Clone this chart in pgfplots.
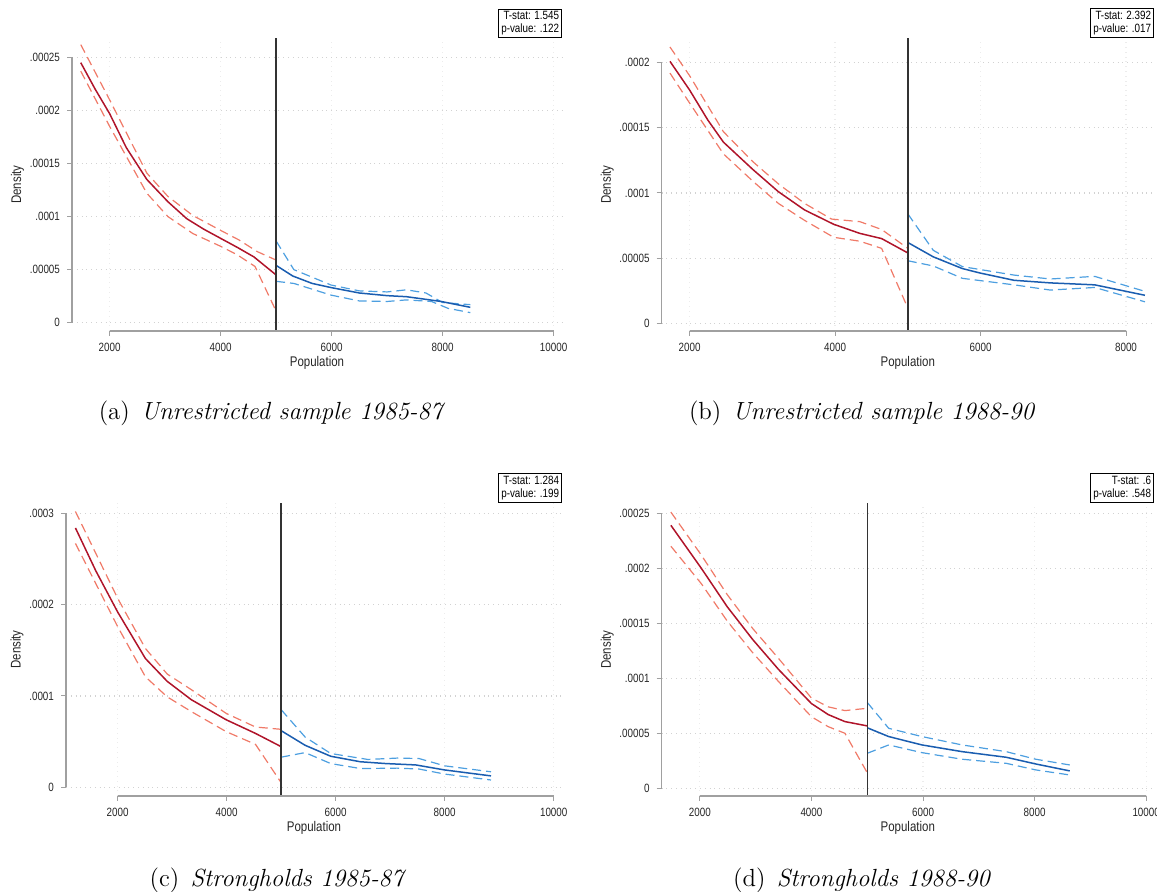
\documentclass[border=0pt]{standalone}
\usepackage{fontspec}
\newfontfamily\stata[FakeStretch=0.82]{Liberation Sans}
\usepackage{pgfplots}
\pgfplotsset{compat=1.18}

\definecolor{redline}{HTML}{B0142A}
\definecolor{reddash}{HTML}{F07A68}
\definecolor{blueline}{HTML}{1A5DB0}
\definecolor{bluedash}{HTML}{4D9FE0}
\definecolor{axisgray}{HTML}{A0A0A0}

\tikzset{tbox/.style={draw, line width=0.5pt, anchor=south east, align=right, inner sep=1.2pt,
    font=\stata\fontsize{6}{6.6}\selectfont}}

\pgfplotsset{
  stata/.style={
    scale only axis, anchor=south west, clip=false, scaled ticks=false,
    axis x line*=bottom, axis y line*=left,
    axis line style={draw=none},
    tick align=outside, major tick length=2.5pt,
    tick style={axisgray, line width=0.5pt},
    grid=major,
    major x grid style={gray!15, dotted, line width=0.6pt},
    major y grid style={gray!35, dotted, line width=0.6pt},
    tick label style={font=\stata\fontsize{6}{7}\selectfont, text=black!85},
    label style={font=\stata\fontsize{7}{8}\selectfont, text=black!85},
    xlabel={Population}, ylabel={Density},
    xlabel shift=-4.5pt, ylabel shift=-4pt,
  },
  est/.style={redline, line width=0.75pt},
  ci/.style={reddash, line width=0.6pt, dash pattern=on 4.5pt off 2.5pt},
  estb/.style={blueline, line width=0.75pt},
  cib/.style={bluedash, line width=0.6pt, dash pattern=on 4.5pt off 2.5pt},
  cut/.style={black!80, line width=0.7pt},
}
\newcommand{\axlines}[2]{%
  \draw[axisgray, line width=0.7pt] ({axis cs:2000,0}|-{rel axis cs:0,0}) -- ({axis cs:#1,0}|-{rel axis cs:0,0});
  \draw[axisgray, line width=0.7pt] ({rel axis cs:0,0}|-{axis cs:0,0}) -- ({rel axis cs:0,0}|-{axis cs:0,#2});
}

\begin{document}
\begin{tikzpicture}
\path[use as bounding box] (0,0) rectangle (578.5pt,446pt);

% (a) Unrestricted sample 1985-87
\begin{axis}[stata, at={(36pt,280.5pt)}, width=245pt, height=146.35pt,
  xmin=1322, xmax=10152, ymin=-0.78e-5, ymax=26.8e-5,
  xtick={2000,4000,6000,8000,10000}, xticklabels={2000,4000,6000,8000,10000},
  ytick={0,5e-5,10e-5,15e-5,20e-5,25e-5},
  yticklabels={0,.00005,.0001,.00015,.0002,.00025}]
\addplot[ci] coordinates {(1480,26.2e-5)(2000,21.0e-5)(2670,14.1e-5)(3050,11.9e-5)(3500,10.1e-5)(4000,8.7e-5)(4330,7.8e-5)(4660,6.7e-5)(5000,5.9e-5)};
\addplot[ci] coordinates {(1480,23.7e-5)(2000,18.5e-5)(2670,12.2e-5)(3050,10.0e-5)(3500,8.4e-5)(4000,7.2e-5)(4300,6.4e-5)(4620,5.3e-5)(4990,1.2e-5)};
\addplot[est] coordinates {(1480,24.5e-5)(1740,22.0e-5)(2000,19.7e-5)(2300,16.5e-5)(2670,13.5e-5)(3050,11.4e-5)(3390,9.8e-5)(3700,8.8e-5)(4000,7.95e-5)(4300,7.1e-5)(4600,6.2e-5)(5000,4.5e-5)};
\addplot[cib] coordinates {(5000,7.7e-5)(5320,5.0e-5)(5990,3.55e-5)(6500,3.0e-5)(7000,2.9e-5)(7350,3.1e-5)(7700,2.8e-5)(8000,1.9e-5)(8500,1.7e-5)};
\addplot[cib] coordinates {(5000,3.9e-5)(5320,3.7e-5)(5990,2.6e-5)(6500,2.05e-5)(7000,2.0e-5)(7350,2.15e-5)(7800,2.0e-5)(8100,1.35e-5)(8500,0.95e-5)};
\addplot[estb] coordinates {(5000,5.4e-5)(5300,4.4e-5)(5650,3.7e-5)(6000,3.3e-5)(6500,2.8e-5)(7000,2.55e-5)(7350,2.45e-5)(7700,2.2e-5)(7975,2.0e-5)(8500,1.45e-5)};
\addplot[cut] coordinates {(5000,-0.78e-5)(5000,26.8e-5)};
\axlines{10000}{25e-5}
\node[tbox] at (rel axis cs:1,1) {T-stat: 1.545\\p-value: .122};
\end{axis}

% (b) Unrestricted sample 1988-90
\begin{axis}[stata, at={(330.8pt,280.5pt)}, width=246.2pt, height=146.35pt,
  xmin=1615, xmax=8385, ymin=-0.59e-5, ymax=21.87e-5,
  xtick={2000,4000,6000,8000}, xticklabels={2000,4000,6000,8000},
  ytick={0,5e-5,10e-5,15e-5,20e-5},
  yticklabels={0,.00005,.0001,.00015,.0002}]
\addplot[ci] coordinates {(1730,21.2e-5)(2000,19.0e-5)(2465,14.7e-5)(2870,12.4e-5)(3220,10.7e-5)(3580,9.2e-5)(3950,8.0e-5)(4340,7.8e-5)(4640,7.2e-5)(5000,5.75e-5)};
\addplot[ci] coordinates {(1730,19.2e-5)(2000,16.9e-5)(2465,13.0e-5)(2870,10.9e-5)(3220,9.2e-5)(3580,7.9e-5)(3980,6.6e-5)(4340,6.3e-5)(4640,5.75e-5)(4990,1.3e-5)};
\addplot[est] coordinates {(1730,20.1e-5)(2000,17.9e-5)(2250,15.6e-5)(2465,13.9e-5)(2870,11.8e-5)(3220,10.1e-5)(3580,8.7e-5)(3980,7.6e-5)(4340,6.9e-5)(4640,6.5e-5)(5000,5.4e-5)};
\addplot[cib] coordinates {(5000,8.4e-5)(5350,5.6e-5)(5750,4.35e-5)(6460,3.7e-5)(6960,3.4e-5)(7570,3.6e-5)(8260,2.45e-5)};
\addplot[cib] coordinates {(5000,4.8e-5)(5350,4.4e-5)(5750,3.45e-5)(6460,2.95e-5)(6960,2.55e-5)(7570,2.75e-5)(8260,1.65e-5)};
\addplot[estb] coordinates {(5000,6.2e-5)(5350,5.1e-5)(5750,4.2e-5)(6000,3.85e-5)(6460,3.3e-5)(6960,3.1e-5)(7570,2.95e-5)(8260,2.15e-5)};
\addplot[cut] coordinates {(5000,-0.59e-5)(5000,21.87e-5)};
\axlines{8000}{20e-5}
\node[tbox] at (rel axis cs:1,1) {T-stat: 2.392\\p-value: .017};
\end{axis}

% (c) Strongholds 1985-87
\begin{axis}[stata, at={(33pt,48pt)}, width=248pt, height=146.5pt,
  xmin=1053, xmax=10152, ymin=-0.95e-5, ymax=31.13e-5,
  xtick={2000,4000,6000,8000,10000}, xticklabels={2000,4000,6000,8000,10000},
  ytick={0,10e-5,20e-5,30e-5},
  yticklabels={0,.0001,.0002,.0003}]
\addplot[ci] coordinates {(1226,30.2e-5)(2000,20.7e-5)(2510,15.2e-5)(2910,12.4e-5)(3350,10.7e-5)(3990,8.1e-5)(4530,6.6e-5)(5000,6.35e-5)};
\addplot[ci] coordinates {(1226,26.7e-5)(2000,17.6e-5)(2510,12.1e-5)(2910,9.9e-5)(3350,8.3e-5)(3990,6.1e-5)(4530,4.7e-5)(4990,0.6e-5)};
\addplot[est] coordinates {(1226,28.4e-5)(1600,23.7e-5)(2000,19.2e-5)(2510,14.1e-5)(2910,11.6e-5)(3350,9.6e-5)(3990,7.4e-5)(4530,5.9e-5)(5000,4.45e-5)};
\addplot[cib] coordinates {(5000,8.5e-5)(5440,5.5e-5)(5910,3.7e-5)(6590,3.05e-5)(7130,3.2e-5)(7530,3.15e-5)(8000,2.35e-5)(8850,1.7e-5)};
\addplot[cib] coordinates {(5000,3.3e-5)(5440,3.8e-5)(5910,2.6e-5)(6460,2.05e-5)(7130,2.1e-5)(7530,2.0e-5)(8000,1.45e-5)(8850,0.8e-5)};
\addplot[estb] coordinates {(5000,6.2e-5)(5440,4.6e-5)(5910,3.4e-5)(6450,2.8e-5)(6920,2.6e-5)(7470,2.45e-5)(8000,1.9e-5)(8850,1.25e-5)};
\addplot[cut] coordinates {(5000,-0.95e-5)(5000,31.13e-5)};
\axlines{10000}{30e-5}
\node[tbox] at (rel axis cs:1,1) {T-stat: 1.284\\p-value: .199};
\end{axis}

% (d) Strongholds 1988-90
\begin{axis}[stata, at={(330.8pt,48pt)}, width=246.2pt, height=146.35pt,
  xmin=1314, xmax=10140, ymin=-0.7e-5, ymax=25.9e-5,
  xtick={2000,4000,6000,8000,10000}, xticklabels={2000,4000,6000,8000,10000},
  ytick={0,5e-5,10e-5,15e-5,20e-5,25e-5},
  yticklabels={0,.00005,.0001,.00015,.0002,.00025}]
\addplot[ci] coordinates {(1480,25.1e-5)(2025,21.2e-5)(2490,17.6e-5)(2950,14.5e-5)(3410,11.8e-5)(4000,8.2e-5)(4300,7.4e-5)(4600,7.06e-5)(5000,7.27e-5)};
\addplot[ci] coordinates {(1480,22.0e-5)(2025,18.6e-5)(2490,15.2e-5)(2950,12.3e-5)(3410,9.7e-5)(4000,6.5e-5)(4300,5.6e-5)(4600,5.0e-5)(4990,1.5e-5)};
\addplot[est] coordinates {(1480,23.9e-5)(2025,20.0e-5)(2490,16.5e-5)(2950,13.5e-5)(3410,10.8e-5)(4000,7.7e-5)(4300,6.7e-5)(4600,6.06e-5)(5000,5.67e-5)};
\addplot[cib] coordinates {(5000,7.8e-5)(5385,5.45e-5)(5980,4.7e-5)(6700,3.94e-5)(7490,3.33e-5)(8020,2.64e-5)(8630,2.12e-5)};
\addplot[cib] coordinates {(5000,3.18e-5)(5385,3.94e-5)(5980,3.24e-5)(6700,2.64e-5)(7490,2.27e-5)(8020,1.67e-5)(8630,1.21e-5)};
\addplot[estb] coordinates {(5000,5.5e-5)(5385,4.7e-5)(5980,3.94e-5)(6700,3.33e-5)(7490,2.82e-5)(8020,2.21e-5)(8630,1.58e-5)};
\addplot[cut] coordinates {(5000,-0.7e-5)(5000,25.9e-5)};
\axlines{10000}{25e-5}
\node[tbox] at (rel axis cs:1,1) {T-stat: .6\\p-value: .548};
\end{axis}

% sub-captions
\node[anchor=base, font=\fontsize{12.4}{14}\selectfont] at (136pt,236pt) {(a)\hspace{0.45em}\textit{Unrestricted sample 1985-87}};
\node[anchor=base, font=\fontsize{12.4}{14}\selectfont] at (431pt,236pt) {(b)\hspace{0.45em}\textit{Unrestricted sample 1988-90}};
\node[anchor=base, font=\fontsize{12.4}{14}\selectfont] at (139pt,2.5pt) {(c)\hspace{0.45em}\textit{Strongholds 1985-87}};
\node[anchor=base, font=\fontsize{12.4}{14}\selectfont] at (431pt,2.5pt) {(d)\hspace{0.45em}\textit{Strongholds 1988-90}};
\end{tikzpicture}
\end{document}
